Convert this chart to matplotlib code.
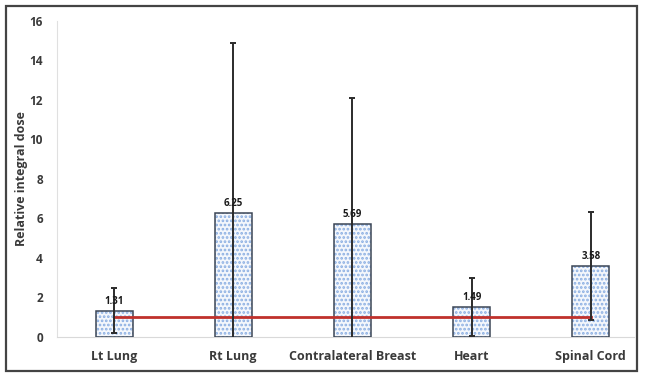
import matplotlib
matplotlib.use("Agg")
import matplotlib.pyplot as plt
from matplotlib.patches import Rectangle

categories = ["Lt Lung", "Rt Lung", "Contralateral Breast", "Heart", "Spinal Cord"]
values = [1.31, 6.25, 5.69, 1.49, 3.58]
errors = [1.15, 8.6, 6.4, 1.46, 2.72]
ref_level = 1.0
yticks = [0, 2, 4, 6, 8, 10, 12, 14, 16]

plt.rcParams['font.family'] = ['Open Sans', 'DejaVu Sans']
plt.rcParams['hatch.linewidth'] = 1.3

fig = plt.figure(figsize=(6.46, 3.74), dpi=100)
ax = fig.add_axes([0.088, 0.100, 0.893, 0.845])

x = list(range(len(categories)))
w = 0.31
ax.bar(x, values, width=w, color='#f4f7fc', edgecolor='#8aaee2', hatch='....', linewidth=0, zorder=2)
ax.bar(x, values, width=w, fill=False, edgecolor='#3c4656', linewidth=1.1, zorder=3)

ax.plot([x[0], x[-1]], [ref_level, ref_level], color='#c0312c', linewidth=2, zorder=4)

ax.errorbar(x, values, yerr=errors, fmt='none', ecolor='#2b2b2b', elinewidth=1.4,
            capsize=2.5, capthick=1.4, zorder=5)

for xi, v in zip(x, values):
    ax.annotate(f"{v:.2f}", (xi, v), xytext=(0, 3), textcoords='offset points',
                ha='center', va='bottom', fontsize=7, fontweight='bold', color='#1a1a1a', zorder=6)

ax.set_xlim(-0.48, 4.36)
ax.set_ylim(0, 16)
ax.set_yticks(yticks)
ax.set_xticks(x)
ax.set_xticklabels(categories, fontsize=9, fontweight='bold', color='#3a3a3a')
for lab in ax.get_yticklabels():
    lab.set_fontweight('bold')
    lab.set_fontsize(8.5)
    lab.set_color('#3a3a3a')
ax.tick_params(axis='y', length=0, pad=10)
ax.tick_params(axis='x', length=0, pad=10)
ax.set_ylabel("Relative integral dose", fontsize=9, fontweight='bold', color='#3a3a3a', labelpad=1)

for s in ['top', 'right']:
    ax.spines[s].set_visible(False)
ax.spines['left'].set_color('#e0e0e0')
ax.spines['bottom'].set_color('#d9d9d9')

fig.patches.append(Rectangle((6/646, 3/374), 631/646, 365/374, transform=fig.transFigure,
                             fill=False, edgecolor='#444444', linewidth=1.6))

fig.savefig("out.png", dpi=100)
